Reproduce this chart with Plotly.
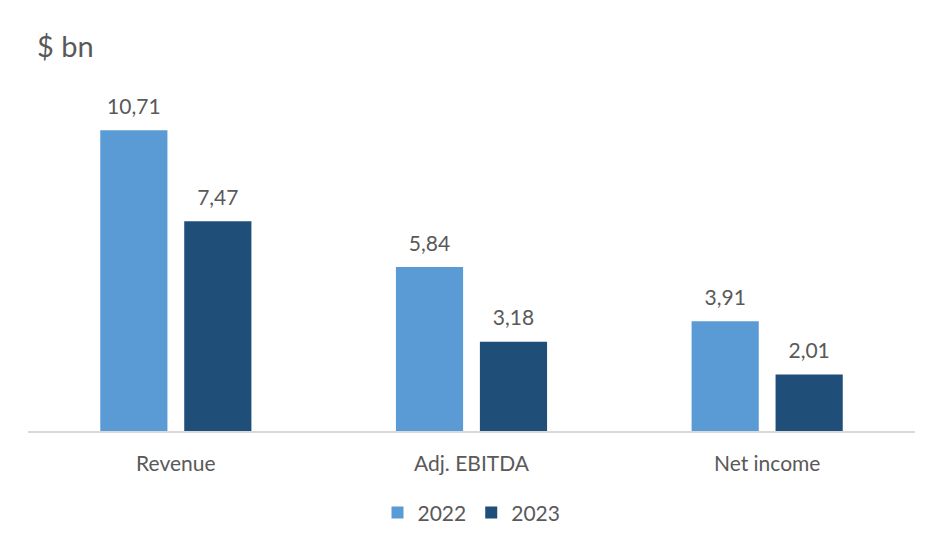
import plotly.graph_objects as go

categories = ["Revenue", "Adj. EBITDA", "Net income"]
years = ["2022", "2023"]
values_2022 = [10.71, 5.84, 3.91]
values_2023 = [7.47, 3.18, 2.01]
colors = {"2022": "#5B9BD5", "2023": "#1F4E79"}

series = {"2022": values_2022, "2023": values_2023}
FONT = "Lato, 'Open Sans', sans-serif"
GRAY = "#595959"

fig = go.Figure()
for yr in years:
    fig.add_trace(go.Bar(
        x=categories, y=series[yr], name=yr,
        marker=dict(color=colors[yr], line=dict(width=0)),
        offsetgroup=yr, hoverinfo="skip",
    ))
for yr in years:
    fig.add_trace(go.Scatter(
        x=categories, y=series[yr], mode="markers+text",
        text=[f"{v:.2f}".replace(".", ",") for v in series[yr]],
        textposition="top center",
        textfont=dict(family=FONT, size=21, color=GRAY),
        marker=dict(size=16, opacity=0),
        offsetgroup=yr, showlegend=False, hoverinfo="skip",
        cliponaxis=False,
    ))

fig.update_layout(
    width=941, height=549,
    margin=dict(l=20, r=34, t=86, b=126),
    paper_bgcolor="white", plot_bgcolor="white",
    barmode="group", scattermode="group",
    bargap=0.432, bargroupgap=0.2, scattergap=0.432,
    font=dict(family=FONT, color=GRAY),
    title=dict(text="$ bn", x=29/941, xanchor="left", xref="container",
               y=1-39/549, yanchor="middle", yref="container",
               font=dict(family=FONT, size=29, color=GRAY)),
    legend=dict(orientation="h", x=0.5, xanchor="center", y=-0.243, yanchor="middle",
                font=dict(family=FONT, size=21, color=GRAY),
                itemsizing="constant", traceorder="normal"),
    showlegend=True,
)
fig.update_xaxes(showline=True, linecolor="#D9D9D9", linewidth=1.5, ticks="",
                 tickfont=dict(family=FONT, size=21, color=GRAY),
                 ticklabelstandoff=13, showgrid=False, zeroline=False)
fig.update_yaxes(visible=False, range=[0, 12], showgrid=False, zeroline=False)

fig.write_html("out.html")
